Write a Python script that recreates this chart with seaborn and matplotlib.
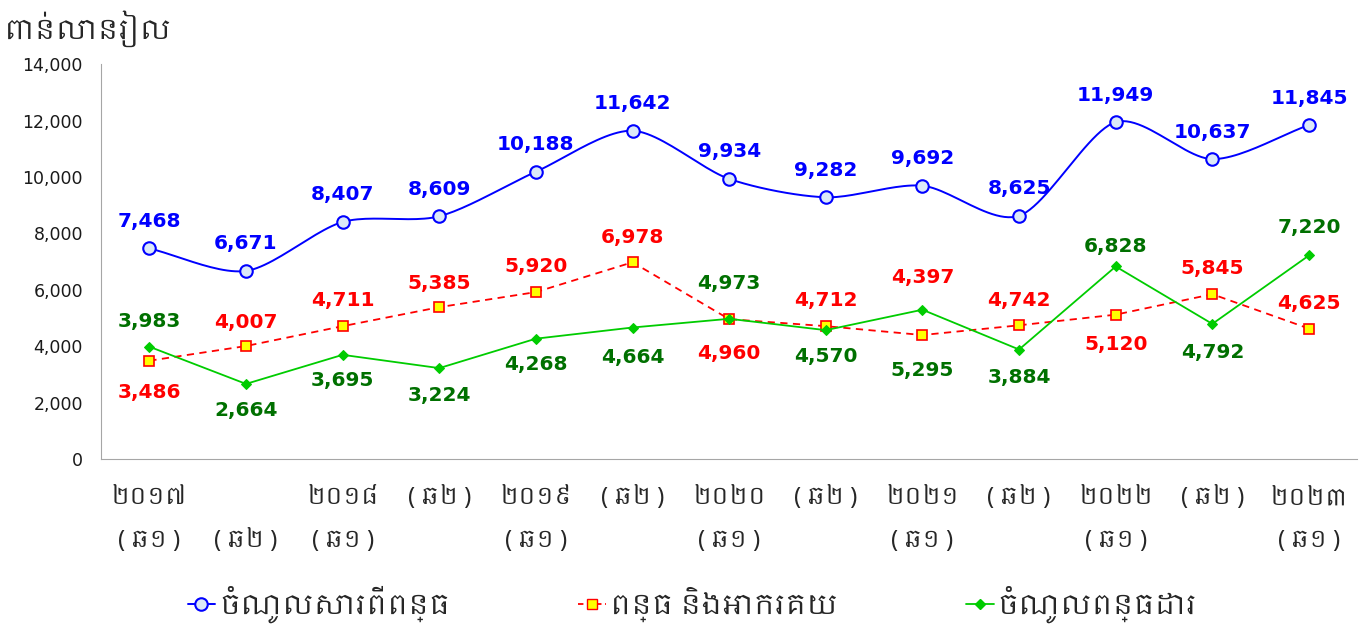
import numpy as np
import pandas as pd
import matplotlib
matplotlib.use("Agg")
import matplotlib.pyplot as plt
from matplotlib import font_manager
from matplotlib.lines import Line2D
import seaborn as sns

periods = ["២០១៧\n( ឆ១ )", "\n( ឆ២ )", "២០១៨\n( ឆ១ )", "( ឆ២ )\n", "២០១៩\n( ឆ១ )", "( ឆ២ )\n",
           "២០២០\n( ឆ១ )", "( ឆ២ )\n", "២០២១\n( ឆ១ )", "( ឆ២ )\n", "២០២២\n( ឆ១ )", "( ឆ២ )\n",
           "២០២៣\n( ឆ១ )"]
total_revenue = [7468, 6671, 8407, 8609, 10188, 11642, 9934, 9282, 9692, 8625, 11949, 10637, 11845]
customs = [3486, 4007, 4711, 5385, 5920, 6978, 4960, 4712, 4397, 4742, 5120, 5845, 4625]
tax = [3983, 2664, 3695, 3224, 4268, 4664, 4973, 4570, 5295, 3884, 6828, 4792, 7220]
series_names = ["ចំណូលសារពើពន្ធ", "ពន្ធ និងអាករគយ", "ចំណូលពន្ធដារ"]
y_title = "ពាន់លានរៀល"

# label offsets in pixels (negative = above the point)
total_lab_dy = [-27] * 13
customs_lab_dy = [32, -24, -26, -24, -26, -25, 34, -26, -58, -25, 30, -26, -25]
tax_lab_dy = [-25, 27, 26, 27, 26, 30, -35, 26, 61, 28, -20, 29, -28]

sns.set_style("white")
khmer = [f.name for f in font_manager.fontManager.ttflist if "khmer" in f.name.lower()]
fam = (khmer[:1] if khmer else []) + ["DejaVu Sans"]
plt.rcParams["font.family"] = fam

BLUE, RED, GREEN = "#0000FF", "#FF0000", "#00CC00"

fig = plt.figure(figsize=(13.71, 6.3), dpi=100)
ax = fig.add_axes([0.0737, 0.2714, 0.9163, 0.6266])

x = np.arange(len(periods))
df = pd.DataFrame({"x": x, "total": total_revenue, "customs": customs, "tax": tax})

def smooth(xs, ys, n=24, k=0.85):
    xs = np.asarray(xs, float); ys = np.asarray(ys, float)
    px = np.concatenate([[2*xs[0]-xs[1]], xs, [2*xs[-1]-xs[-2]]])
    py = np.concatenate([[2*ys[0]-ys[1]], ys, [2*ys[-1]-ys[-2]]])
    ox, oy = [], []
    t = np.linspace(0, 1, n, endpoint=False)
    for i in range(1, len(px)-2):
        for arr, out in ((px, ox), (py, oy)):
            p0, p1, p2, p3 = arr[i-1], arr[i], arr[i+1], arr[i+2]
            m1 = k*(p2-p0)/2; m2 = k*(p3-p1)/2
            h00 = 2*t**3-3*t**2+1; h10 = t**3-2*t**2+t; h01 = -2*t**3+3*t**2; h11 = t**3-t**2
            out.extend(h00*p1 + h10*m1 + h01*p2 + h11*m2)
    ox.append(xs[-1]); oy.append(ys[-1])
    return np.array(ox), np.array(oy)

sx, sy = smooth(x, total_revenue)
ax.plot(sx, sy, color=BLUE, lw=1.4, zorder=3)
sns.lineplot(data=df, x="x", y="total", ax=ax, color=BLUE, lw=0, marker="o",
             markersize=9, markerfacecolor="#DCE9F8", markeredgecolor=BLUE,
             markeredgewidth=1.5, zorder=4)
sns.lineplot(data=df, x="x", y="customs", ax=ax, color=RED, lw=1.3,
             linestyle=(0, (4, 3)), marker="s", markersize=7,
             markerfacecolor="#FFFF00", markeredgecolor=RED, markeredgewidth=1.2, zorder=4)
sns.lineplot(data=df, x="x", y="tax", ax=ax, color=GREEN, lw=1.3, marker="D",
             markersize=5, markerfacecolor=GREEN, markeredgecolor=GREEN, zorder=4)

lab_kw = dict(ha="center", va="center", fontsize=14.5, fontweight="bold",
              family="DejaVu Sans", textcoords="offset pixels")
for vals, dys, col in ((total_revenue, total_lab_dy, BLUE),
                       (customs, customs_lab_dy, RED),
                       (tax, tax_lab_dy, "#007000")):
    for i, (v, dy) in enumerate(zip(vals, dys)):
        ax.annotate(f"{v:,}", (i, v), xytext=(0, -dy), color=col, **lab_kw)

ax.set_xlim(-0.5, len(periods) - 0.5)
ax.set_ylim(0, 14000)
ax.set_yticks(range(0, 14001, 2000))
ax.set_yticklabels([f"{v:,}" for v in range(0, 14001, 2000)], fontsize=12.5,
                   family="DejaVu Sans", color="#1A1A1A")
ax.set_xticks(x)
ax.set_xticklabels(periods, fontsize=17, linespacing=2.0)
ax.set_xlabel(""); ax.set_ylabel("")
for s in ["top", "right"]:
    ax.spines[s].set_visible(False)
for s in ["left", "bottom"]:
    ax.spines[s].set_color("#A6A6A6")
ax.tick_params(axis="x", length=7, color="#A6A6A6", pad=12)
ax.tick_params(axis="y", length=5, color="#A6A6A6", pad=8)

fig.text(0.003, 0.955, y_title, fontsize=20, ha="left", va="center")

handles = [
    Line2D([], [], color=BLUE, lw=1.4, marker="o", markersize=9, markerfacecolor="#DCE9F8",
           markeredgecolor=BLUE, markeredgewidth=1.5),
    Line2D([], [], color=RED, lw=1.3, linestyle=(0, (3, 2)), marker="s", markersize=7,
           markerfacecolor="#FFFF00", markeredgecolor=RED),
    Line2D([], [], color=GREEN, lw=1.3, marker="D", markersize=5, markerfacecolor=GREEN),
]
fig.legend(handles, series_names, loc="center", bbox_to_anchor=(0.505, 0.04), ncol=3,
           frameon=False, fontsize=20, handlelength=1.0, handletextpad=0.15, columnspacing=4.6)

fig.savefig("out.png", dpi=100)
